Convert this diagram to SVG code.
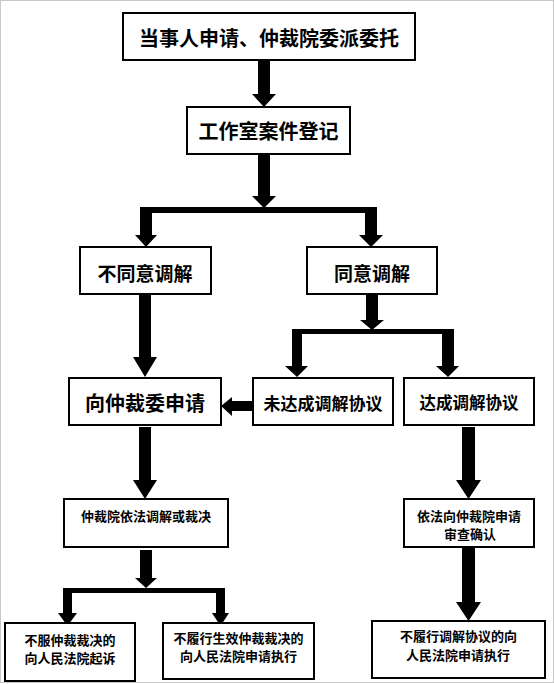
<svg xmlns="http://www.w3.org/2000/svg" width="554" height="684" viewBox="0 0 554 684">
<style>
.box{fill:#fff;stroke:#000;stroke-width:2}
.t{font-family:"Noto Sans CJK SC","Noto Sans CJK JP",sans-serif;font-weight:bold;fill:#000;text-anchor:middle;dominant-baseline:central}
.big{font-size:20px}
.mid{font-size:19px}
.m2{font-size:17px}
.sm{font-size:13px}
.arr{fill:#000;stroke:none}
</style>
<rect x="0.5" y="0.5" width="553" height="682" fill="#fff" stroke="#c8c8c8" stroke-width="1"/>
<g id="connectors">
<path class="arr" d="M258,61 H270 V94 H276 L264,107 L252,94 H258 Z"/>
<path class="arr" d="M258,155 H270 V196 H276 L264,208 L252,196 H258 Z"/>
<rect class="arr" x="140" y="207" width="237" height="6"/>
<path class="arr" d="M140,213 H152 V235 H157 L146,247 L135,235 H140 Z"/>
<path class="arr" d="M365,213 H377 V235 H383 L371,247 L359,235 H365 Z"/>
<path class="arr" d="M139,295 H151 V357 H157 L145,377 L133,357 H139 Z"/>
<path class="arr" d="M366,295 H378 V320 H384 L372,330 L360,320 H366 Z"/>
<rect class="arr" x="292" y="329" width="162" height="5"/>
<path class="arr" d="M292,334 H302 V366 H308 L297,377 L285,366 H292 Z"/>
<path class="arr" d="M442,334 H454 V366 H459 L448,377 L436,366 H442 Z"/>
<path class="arr" d="M252,401 V411 H232 V416 L221,406 L232,397 V401 Z"/>
<path class="arr" d="M139,427 H151 V480 H157 L145,499 L133,480 H139 Z"/>
<path class="arr" d="M140,550 H152 V578 H157 L146,588 L135,578 H140 Z"/>
<rect class="arr" x="63" y="588" width="162" height="5"/>
<path class="arr" d="M63,593 H72 V613 H77 L67.5,626 L58,613 H63 Z"/>
<path class="arr" d="M216,593 H225 V613 H229 L220.5,626 L212,613 H216 Z"/>
<path class="arr" d="M462,427 H475 V480 H481 L468.5,499 L456,480 H462 Z"/>
<path class="arr" d="M462,548 H475 V602 H481 L468.5,621 L456,602 H462 Z"/>
</g>
<g id="n1"><rect class="box" x="123" y="13" width="292" height="47"/><text class="t big" x="269" y="37">当事人申请、仲裁院委派委托</text></g>
<g id="n2"><rect class="box" x="187" y="107" width="163" height="47"/><text class="t big" x="268.5" y="130.5">工作室案件登记</text></g>
<g id="n3"><rect class="box" x="80" y="247" width="131" height="47"/><text class="t mid" x="145" y="272">不同意调解</text></g>
<g id="n4"><rect class="box" x="307" y="247" width="130" height="47"/><text class="t mid" x="372" y="272">同意调解</text></g>
<g id="n5"><rect class="box" x="69" y="378" width="152" height="47"/><text class="t big" x="145" y="402">向仲裁委申请</text></g>
<g id="n6"><rect class="box" x="253" y="378" width="140" height="47"/><text class="t m2" x="323" y="402">未达成调解协议</text></g>
<g id="n7"><rect class="box" x="404" y="378" width="130" height="47"/><text class="t m2" x="469" y="402" style="font-size:16.5px">达成调解协议</text></g>
<g id="n8"><rect class="box" x="64" y="499" width="164" height="48"/><text class="t sm" x="146" y="515">仲裁院依法调解或裁决</text></g>
<g id="n9"><rect class="box" x="404" y="499" width="130" height="48"/><text class="t sm" x="469" y="515">依法向仲裁院申请</text><text class="t sm" x="470" y="533">审查确认</text></g>
<g id="n10"><rect class="box" x="5" y="623" width="130" height="58"/><text class="t sm" x="70" y="639">不服仲裁裁决的</text><text class="t sm" x="70" y="657">向人民法院起诉</text></g>
<g id="n11"><rect class="box" x="163" y="623" width="151" height="56"/><text class="t sm" x="238.5" y="637">不履行生效仲裁裁决的</text><text class="t sm" x="238.5" y="655.5">向人民法院申请执行</text></g>
<g id="n12"><rect class="box" x="372" y="621" width="173" height="57"/><text class="t sm" x="458.5" y="635.5">不履行调解协议的向</text><text class="t sm" x="458" y="654.5">人民法院申请执行</text></g>
</svg>
